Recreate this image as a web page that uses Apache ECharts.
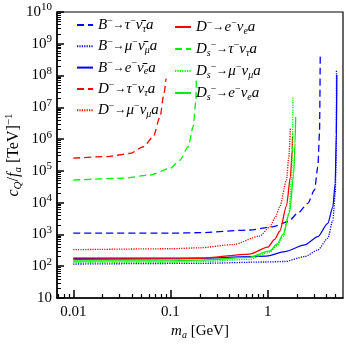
<!DOCTYPE html>
<html><head><meta charset="utf-8">
<script src="https://cdn.jsdelivr.net/npm/echarts@6/dist/echarts.min.js"></script>
<style>html,body{margin:0;padding:0;background:#fff}#c{width:346px;height:346px}</style>
</head><body><div id="c"></div>
<script>
// ---- data (m_a in GeV, c_Q/f_a in TeV^-1) ----
const B_tau = [[0.01,1096],[0.1,1096],[0.2,1135],[0.65,1380],[1.125,1738],[1.61,2512],[2.05,4677],[2.59,9550],[3.03,25100],[3.28,135000],[3.41,1510000],[3.47,390000000]];
const B_mu  = [[0.01,117],[0.2,123],[0.97,136],[1.49,141],[2.4,200],[3.28,324],[4.15,759],[4.68,2818],[4.95,19500],[5.08,457000],[5.1,148000000]];
const B_e   = [[0.01,178],[0.2,180],[0.97,209],[1.5,288],[2.4,468],[3.28,851],[4.15,2239],[4.68,7413],[4.95,40700],[5.08,1510000],[5.14,105000000]];
const D_tau = [[0.01,251000],[0.0222,282000],[0.0385,355000],[0.0526,575000],[0.0666,1200000],[0.078,5000000],[0.0857,27500000],[0.09,81000000]];
const D_mu  = [[0.01,331],[0.1,355],[0.2,380],[0.44,480],[0.83,891],[1.05,1738],[1.2,3500],[1.33,7413],[1.56,51300],[1.65,282000],[1.71,2190000]];
const D_e   = [[0.01,166],[0.1,170],[0.2,178],[0.65,240],[1.0,398],[1.18,700],[1.33,1259],[1.56,7943],[1.71,63100],[1.79,457000],[1.80,1200000]];
const Ds_tau= [[0.01,51300],[0.0328,58900],[0.0616,74100],[0.0989,120000],[0.125,219000],[0.152,575000],[0.171,2450000],[0.183,17000000],[0.1845,91000000]];
const Ds_mu = [[0.01,129],[0.1,132],[0.2,138],[0.65,166],[1.05,275],[1.25,450],[1.44,851],[1.65,4677],[1.76,51300],[1.80,933000],[1.82,21400000]];
const Ds_e  = [[0.01,146],[0.1,148],[0.2,155],[0.65,191],[1.05,302],[1.25,500],[1.44,1000],[1.68,5012],[1.85,79400],[1.91,741000],[1.94,5000000]];

const xMajor = [0.01, 0.1, 1];
const xMinor = [0.007,0.008,0.009,0.02,0.03,0.04,0.05,0.06,0.07,0.08,0.09,0.2,0.3,0.4,0.5,0.6,0.7,0.8,0.9,2,3,4,5];
const yMajor = [10,100,1e3,1e4,1e5,1e6,1e7,1e8,1e9,1e10];
const yMinor = [20,30,40,50,60,70,80,90,200,300,400,500,600,700,800,900,2e3,3e3,4e3,5e3,6e3,7e3,8e3,9e3,
  2e4,3e4,4e4,5e4,6e4,7e4,8e4,9e4,2e5,3e5,4e5,5e5,6e5,7e5,8e5,9e5,2e6,3e6,4e6,5e6,6e6,7e6,8e6,9e6,
  2e7,3e7,4e7,5e7,6e7,7e7,8e7,9e7,2e8,3e8,4e8,5e8,6e8,7e8,8e8,9e8,2e9,3e9,4e9,5e9,6e9,7e9,8e9,9e9];

const legendLabels = {
  'Bt': '{i|B}{p|−}{r|→}{i|τ}{p|−}{i|ν̄}{s|τ}{i|a}',
  'Bm': '{i|B}{p|−}{r|→}{i|μ}{p|−}{i|ν̄}{s|μ}{i|a}',
  'Be': '{i|B}{p|−}{r|→}{i|e}{p|−}{i|ν̄}{s|e}{i|a}',
  'Dt': '{i|D}{p|−}{r|→}{i|τ}{p|−}{i|ν}{s|τ}{i|a}',
  'Dm': '{i|D}{p|−}{r|→}{i|μ}{p|−}{i|ν}{s|μ}{i|a}',
  'De': '{i|D}{p|−}{r|→}{i|e}{p|−}{i|ν}{s|e}{i|a}',
  'Dst': '{i|D}{s|s}{p|−}{r|→}{i|τ}{p|−}{i|ν}{s|τ}{i|a}',
  'Dsm': '{i|D}{s|s}{p|−}{r|→}{i|μ}{p|−}{i|ν}{s|μ}{i|a}',
  'Dse': '{i|D}{s|s}{p|−}{r|→}{i|e}{p|−}{i|ν}{s|e}{i|a}'
};

const FONT = 'Liberation Serif';
const BLUE = '#0000ff', RED = '#ff0000', GREEN = '#00f000';
const DASH = [7, 4], DOT = [1.2, 1.2];

const rich = {
  i: {fontFamily: FONT, fontStyle: 'italic', fontSize: 15, lineHeight: 18, color: '#000'},
  r: {fontFamily: FONT, fontSize: 12, lineHeight: 18, color: '#000'},
  p: {fontFamily: FONT, fontSize: 10, lineHeight: 10, verticalAlign: 'top', color: '#000'},
  s: {fontFamily: FONT, fontStyle: 'italic', fontSize: 10, lineHeight: 10, verticalAlign: 'bottom', color: '#000'}
};

function mk(name, data, color, type) {
  return {
    name, type: 'line', data, xAxisIndex: 0, yAxisIndex: 0,
    showSymbol: false, symbol: 'circle', symbolSize: 0, smooth: 0.25, smoothMonotone: 'x',
    lineStyle: {color, width: 1.3, type}, itemStyle: {color},
    emphasis: {disabled: true}, animation: false
  };
}

const chart = echarts.init(document.getElementById('c'), null, {renderer: 'canvas'});
const legendCommon = {
  orient: 'vertical', padding: 0, itemWidth: 16, itemHeight: 10,
  selectedMode: false, formatter: n => legendLabels[n],
  itemStyle: {opacity: 0},
  textStyle: {rich, fontFamily: FONT, fontSize: 15}
};
chart.setOption({
  animation: false,
  backgroundColor: '#fff',
  grid: {left: 57, right: 3, top: 12, bottom: 48, show: true, borderColor: '#000', borderWidth: 1.2,
    containLabel: false, outerBoundsMode: 'none'},
  legend: [
    Object.assign({left: 76, top: 16, itemGap: 3.3, data: ['Bt','Bm','Be','Dt','Dm']}, legendCommon),
    Object.assign({left: 174, top: 18, itemGap: 4, data: ['De','Dst','Dsm','Dse']}, legendCommon)
  ],
  xAxis: [{
    type: 'log', logBase: 10, min: 0.0068, max: 5.95,
    axisLine: {lineStyle: {color: '#000', width: 1.5}},
    axisTick: {inside: true, length: 8, lineStyle: {color: '#000', width: 1.5}, customValues: xMajor},
    axisLabel: {customValues: xMajor, color: '#000', fontFamily: FONT, fontSize: 15, margin: 7,
      formatter: v => String(v)},
    splitLine: {show: false}, minorTick: {show: false},
    name: '{i|m}{s|a}{t| [GeV]}', nameLocation: 'middle', nameGap: 24, nameMoveOverlap: false,
    nameTextStyle: {rich: {
      i: {fontFamily: FONT, fontStyle: 'italic', fontSize: 15, lineHeight: 18, color: '#000'},
      s: {fontFamily: FONT, fontStyle: 'italic', fontSize: 10, lineHeight: 10, verticalAlign: 'bottom', color: '#000'},
      t: {fontFamily: FONT, fontSize: 15, lineHeight: 18, color: '#000'}
    }}
  }, {
    type: 'log', logBase: 10, min: 0.0068, max: 5.95, position: 'bottom',
    axisLine: {show: false}, axisLabel: {show: false}, splitLine: {show: false},
    axisTick: {inside: true, length: 4, lineStyle: {color: '#000', width: 1.2}, customValues: xMinor}
  }],
  yAxis: [{
    type: 'log', logBase: 10, min: 10, max: 1e10,
    axisLine: {lineStyle: {color: '#000', width: 1.5}},
    axisTick: {inside: true, length: 7, lineStyle: {color: '#000', width: 1.5}, customValues: yMajor},
    axisLabel: {customValues: yMajor, color: '#000', margin: 5,
      formatter: v => { const e = Math.round(Math.log10(v)); return e === 1 ? '{b|10}' : '{b|10}{p|' + e + '}'; },
      rich: {
        b: {fontFamily: FONT, fontSize: 15, lineHeight: 20, color: '#000'},
        p: {fontFamily: FONT, fontSize: 11, lineHeight: 12, verticalAlign: 'top', color: '#000'}
      }},
    splitLine: {show: false}, minorTick: {show: false},
    name: '{i|c}{s|Q}{t|/}{i|f}{s|a}{t| [TeV]}{p|−1}', nameLocation: 'middle', nameGap: 33, nameRotate: 90,
    nameMoveOverlap: false,
    nameTextStyle: {rich: {
      i: {fontFamily: FONT, fontStyle: 'italic', fontSize: 16, lineHeight: 20, color: '#000'},
      s: {fontFamily: FONT, fontStyle: 'italic', fontSize: 11, lineHeight: 11, verticalAlign: 'bottom', color: '#000'},
      t: {fontFamily: FONT, fontSize: 16, lineHeight: 20, color: '#000'},
      p: {fontFamily: FONT, fontSize: 11, lineHeight: 11, verticalAlign: 'top', color: '#000'}
    }}
  }, {
    type: 'log', logBase: 10, min: 10, max: 1e10, position: 'left',
    axisLine: {show: false}, axisLabel: {show: false}, splitLine: {show: false},
    axisTick: {inside: true, length: 4, lineStyle: {color: '#000', width: 1}, customValues: yMinor}
  }],
  series: [
    mk('Bt', B_tau, BLUE, DASH),
    mk('Bm', B_mu, BLUE, DOT),
    mk('Be', B_e, BLUE, 'solid'),
    mk('Dt', D_tau, RED, DASH),
    mk('Dm', D_mu, RED, DOT),
    mk('De', D_e, RED, 'solid'),
    mk('Dst', Ds_tau, GREEN, DASH),
    mk('Dsm', Ds_mu, GREEN, DOT),
    mk('Dse', Ds_e, GREEN, 'solid')
  ]
});
</script></body></html>
